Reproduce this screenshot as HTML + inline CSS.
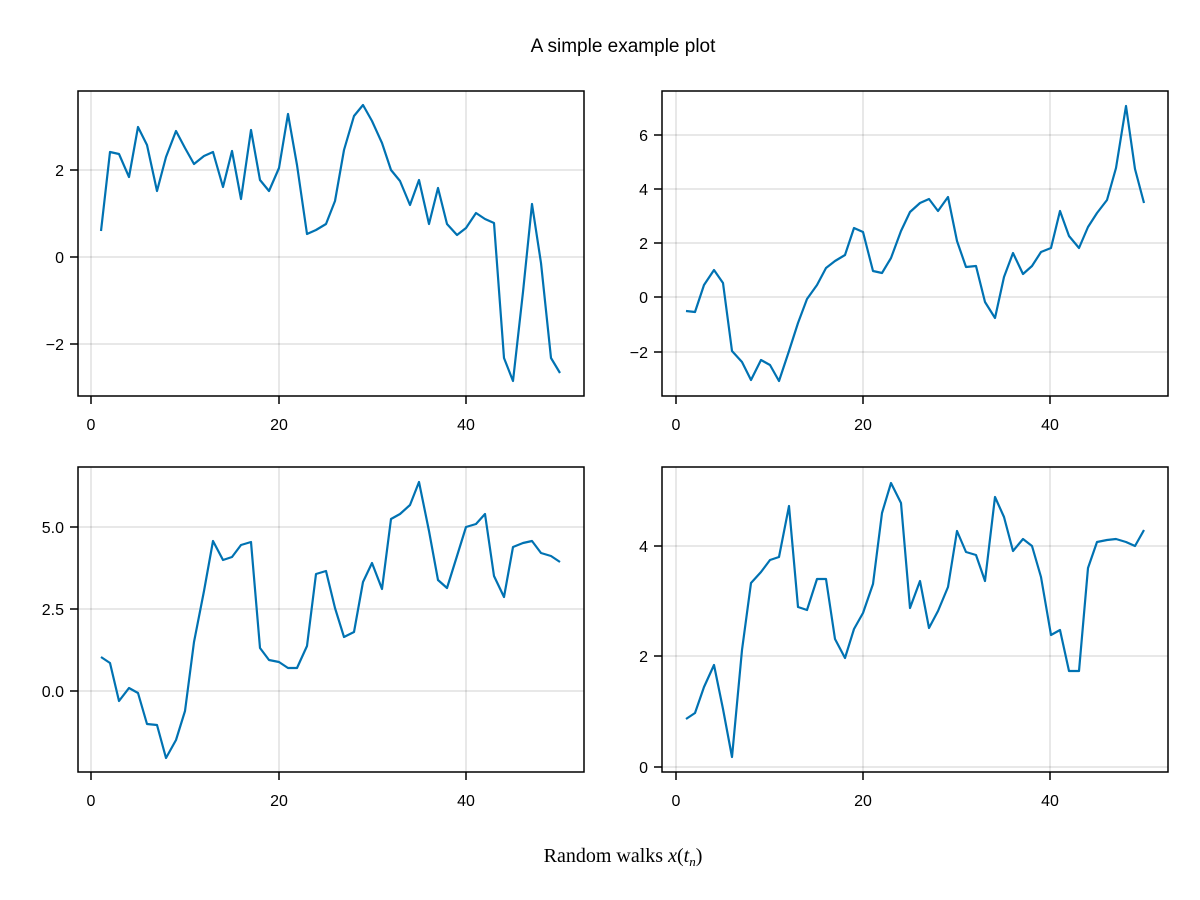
<!DOCTYPE html>
<html><head><meta charset="utf-8"><style>body{margin:0;background:#fff}svg{display:block}text{font-family:"Liberation Sans",sans-serif;font-size:16px;fill:#000}</style></head><body>
<svg width="1200" height="900" xmlns="http://www.w3.org/2000/svg">
<rect width="1200" height="900" fill="#fff"/>
<text x="623" y="52" text-anchor="middle" style="font-size:19px">A simple example plot</text>
<text x="623" y="862" text-anchor="middle" style="font-family:'Liberation Serif',serif;font-size:20px">Random walks <tspan font-style="italic">x</tspan>(<tspan font-style="italic">t</tspan><tspan font-style="italic" font-size="13" dy="4">n</tspan><tspan dy="-4">)</tspan></text>
<g stroke="#000" stroke-opacity="0.12" stroke-width="1.5">
<line x1="91" y1="91" x2="91" y2="396"/><line x1="279" y1="91" x2="279" y2="396"/><line x1="466" y1="91" x2="466" y2="396"/>
<line x1="78" y1="170" x2="584" y2="170"/><line x1="78" y1="257" x2="584" y2="257"/><line x1="78" y1="344" x2="584" y2="344"/>
<line x1="676" y1="91" x2="676" y2="396"/><line x1="863" y1="91" x2="863" y2="396"/><line x1="1050" y1="91" x2="1050" y2="396"/>
<line x1="662" y1="135" x2="1168" y2="135"/><line x1="662" y1="189" x2="1168" y2="189"/><line x1="662" y1="243" x2="1168" y2="243"/><line x1="662" y1="297" x2="1168" y2="297"/><line x1="662" y1="352" x2="1168" y2="352"/>
<line x1="91" y1="467" x2="91" y2="772"/><line x1="279" y1="467" x2="279" y2="772"/><line x1="466" y1="467" x2="466" y2="772"/>
<line x1="78" y1="527" x2="584" y2="527"/><line x1="78" y1="609" x2="584" y2="609"/><line x1="78" y1="691" x2="584" y2="691"/>
<line x1="676" y1="467" x2="676" y2="772"/><line x1="863" y1="467" x2="863" y2="772"/><line x1="1050" y1="467" x2="1050" y2="772"/>
<line x1="662" y1="546" x2="1168" y2="546"/><line x1="662" y1="656" x2="1168" y2="656"/><line x1="662" y1="767" x2="1168" y2="767"/>
</g>
<g fill="none" stroke="#0072b2" stroke-width="2.2" stroke-linejoin="round">
<polyline points="101,231 110,152 119,154 129,177 138,127 147,145 157,191 166,157 176,131 185,148 194,164 204,156 213,152 223,187 232,151 241,199 251,130 260,180 269,191 279,168 288,114 297,165 307,234 316,230 326,224 335,201 344,150 354,116 363,105 372,121 382,143 391,170 400,181 410,205 419,180 429,224 438,188 447,224 457,235 466,228 476,213 485,219 494,223 504,358 513,381 523,292 532,204 541,263 551,358 560,373"/>
<polyline points="686,311 695,312 704,285 714,270 723,283 732,351 742,362 751,380 761,360 770,365 779,381 789,351 798,323 807,299 817,285 826,268 835,261 845,255 854,228 863,232 873,271 882,273 891,258 901,231 910,212 920,203 929,199 938,211 948,197 957,241 966,267 976,266 985,302 995,318 1004,277 1013,253 1023,274 1032,266 1041,252 1051,248 1060,211 1069,236 1079,248 1088,227 1097,213 1107,200 1116,168 1126,106 1135,169 1144,203"/>
<polyline points="101,657 110,663 119,701 129,688 138,693 147,724 157,725 166,758 176,740 185,711 194,642 204,591 213,541 223,560 232,557 241,545 251,542 260,648 269,660 279,662 288,668 297,668 307,646 316,574 326,571 335,608 344,637 354,632 363,582 372,563 382,589 391,519 400,514 410,505 419,482 429,531 438,580 447,588 457,556 466,527 476,524 485,514 494,576 504,597 513,547 523,543 532,541 541,553 551,556 560,562"/>
<polyline points="686,719 695,713 704,687 714,665 723,709 732,757 742,650 751,583 761,572 770,560 779,557 789,506 798,607 807,610 817,579 826,579 835,639 845,658 854,629 863,613 873,584 882,513 891,483 901,503 910,608 920,581 929,628 938,611 948,587 957,531 966,552 976,555 985,581 995,497 1004,517 1013,551 1023,539 1032,546 1041,577 1051,635 1060,630 1069,671 1079,671 1088,568 1097,542 1107,540 1116,539 1126,542 1135,546 1144,530"/>
</g>
<g fill="none" stroke="#000" stroke-width="1.5">
<rect x="78" y="91" width="506" height="305"/><rect x="662" y="91" width="506" height="305"/>
<rect x="78" y="467" width="506" height="305"/><rect x="662" y="467" width="506" height="305"/>
<path d="M91,396v8M279,396v8M466,396v8M676,396v8M863,396v8M1050,396v8M91,772v8M279,772v8M466,772v8M676,772v8M863,772v8M1050,772v8"/>
<path d="M78,170h-8M78,257h-8M78,344h-8M662,135h-8M662,189h-8M662,243h-8M662,297h-8M662,352h-8M78,527h-8M78,609h-8M78,691h-8M662,546h-8M662,656h-8M662,767h-8"/>
</g>
<g text-anchor="middle">
<text x="91" y="430">0</text><text x="279" y="430">20</text><text x="466" y="430">40</text>
<text x="676" y="430">0</text><text x="863" y="430">20</text><text x="1050" y="430">40</text>
<text x="91" y="806">0</text><text x="279" y="806">20</text><text x="466" y="806">40</text>
<text x="676" y="806">0</text><text x="863" y="806">20</text><text x="1050" y="806">40</text>
</g>
<g text-anchor="end">
<text x="64" y="176">2</text><text x="64" y="263">0</text><text x="64" y="350">−2</text>
<text x="648" y="141">6</text><text x="648" y="195">4</text><text x="648" y="249">2</text><text x="648" y="303">0</text><text x="648" y="358">−2</text>
<text x="64" y="533">5.0</text><text x="64" y="615">2.5</text><text x="64" y="697">0.0</text>
<text x="648" y="552">4</text><text x="648" y="662">2</text><text x="648" y="773">0</text>
</g>
</svg>
</body></html>
